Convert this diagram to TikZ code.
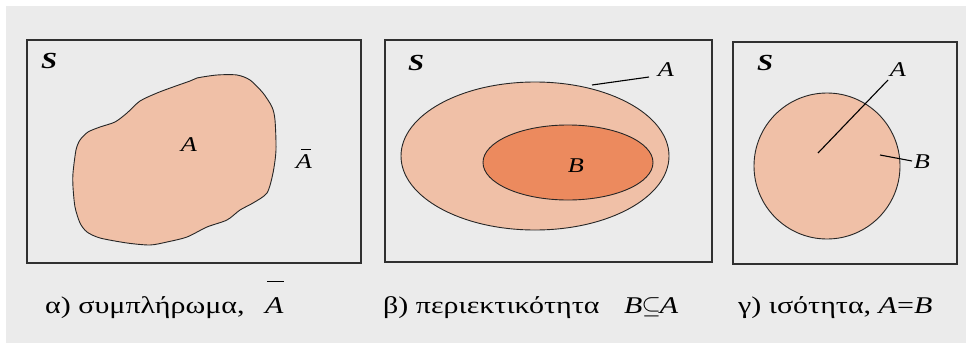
\documentclass[tikz,border=0pt]{standalone}
\usepackage{fontspec}
\setmainfont[FakeStretch=1.25]{Liberation Serif}
\definecolor{bggray}{HTML}{EBEBEB}
\definecolor{peach}{HTML}{F0C0A7}
\definecolor{deeporange}{HTML}{EC8A5E}
\definecolor{boxline}{HTML}{303030}
\tikzset{
  frame/.style={draw=boxline, line width=1.8pt},
  region/.style={draw=black!85, line width=0.9pt, fill=peach},
  inner region/.style={draw=black!85, line width=0.9pt, fill=deeporange},
  lbl/.style={inner sep=0pt, font=\fontsize{21}{24}\selectfont\itshape},
  slbl/.style={inner sep=0pt, font=\fontsize{23}{26}\selectfont\bfseries\itshape},
  captxt/.style={inner sep=0pt, anchor=base west, font=\fontsize{24}{28}\selectfont},
  leader/.style={draw=black, line width=1.1pt}
}
\begin{document}
\begin{tikzpicture}[x=1pt,y=-1pt]
\useasboundingbox (0,0) rectangle (966,343);
\fill[white] (0,0) rectangle (966,343);
\fill[bggray] (6,6) rectangle (966,343);

% ---------- panel alpha ----------
\draw[frame] (27,40) rectangle (361,263);
\node[slbl] (s1) at (49,61) {S};
\draw[region] plot[smooth cycle, tension=0.45] coordinates {
 (73,173) (76,150) (80,140) (88,132) (100,127) (115,122) (127,113) (140,101)
 (157,93) (173,87) (190,81) (197,78) (217,75) (237,75) (250,80) (263,93)
 (272,107) (275,120) (276,150) (273,173) (267,193) (253,203) (240,210)
 (227,220) (207,227) (187,237) (167,242) (150,245) (127,243) (100,238)
 (87,232) (80,223) (75,207) (73,187)};
\node[lbl] (a1) at (189,145) {A};
\node[lbl] (abar1) at (304,162) {A};
\draw[line width=0.8pt] ([xshift=-3pt,yshift=5pt]abar1.north) -- ([xshift=7pt,yshift=5pt]abar1.north);

% ---------- panel beta ----------
\draw[frame] (385,40) rectangle (712,262);
\node[slbl] (s2) at (416,63) {S};
\draw[region] (535,156) ellipse [x radius=134, y radius=74];
\draw[inner region] (568,162.5) ellipse [x radius=85, y radius=37.5];
\node[lbl] (b2) at (576,166) {B};
\node[lbl] (a2) at (666,70) {A};
\coordinate (a2end) at (592,85);
\draw[leader] (a2end) -- (649,77);

% ---------- panel gamma ----------
\draw[frame] (733,42) rectangle (957,264);
\node[slbl] (s3) at (765,63) {S};
\draw[region] (827,166) circle [radius=73];
\node[lbl] (a3) at (898,70) {A};
\node[lbl] (b3) at (922,162) {B};
\coordinate (a3end) at (818,153);
\coordinate (b3end) at (880,155);
\draw[leader] (a3end) -- (888,80);
\draw[leader] (b3end) -- (912,161);

% ---------- captions ----------
\node[captxt] (c1) at (45,313) {α) συμπλήρωμα,};
\node[captxt] (c1a) at (265,313) {\itshape A};
\draw[line width=1pt] ([xshift=2pt,yshift=15pt]c1a.north west) -- ([yshift=15pt]c1a.north east);
\node[captxt] (c2) at (383,313) {β) περιεκτικότητα};
\node[captxt] (c2b) at (624,313) {\textit{B}\kern-1pt$\subseteq$\kern-1pt\textit{A}};
\node[captxt] (c3) at (738,313) {γ) ισότητα, \textit{A}=\textit{B}};
\end{tikzpicture}
\end{document}
